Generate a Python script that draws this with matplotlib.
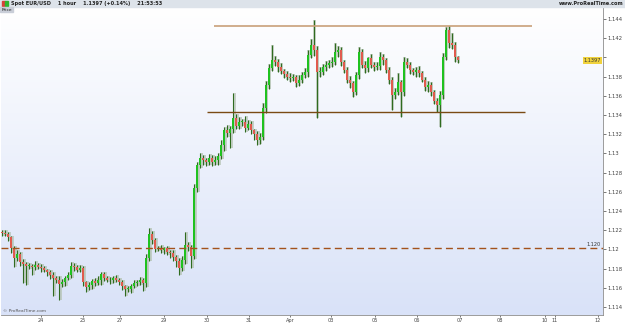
import numpy as np
import matplotlib
matplotlib.use("Agg")
import matplotlib.pyplot as plt
from matplotlib.colors import LinearSegmentedColormap
from matplotlib.patches import Rectangle

# EUR/USD spot, 1 hour candles (24 Mar -> 6 Apr), one close per candle
first_open = 1.1218
closes = [
    1.1217, 1.1216, 1.1213, 1.1201, 1.1191, 1.1195, 1.1187, 1.1185, 1.1183, 1.1183,
    1.1182, 1.1184, 1.1182, 1.1181, 1.1179, 1.1177, 1.1173, 1.1170, 1.1168, 1.1164,
    1.1166, 1.1170, 1.1173, 1.1183, 1.1182, 1.1179, 1.1181, 1.1166, 1.1161, 1.1163,
    1.1167, 1.1165, 1.1168, 1.1174, 1.1170, 1.1168, 1.1168, 1.1170, 1.1168, 1.1166,
    1.1162, 1.1159, 1.1159, 1.1162, 1.1165, 1.1166, 1.1168, 1.1165, 1.1191, 1.1216,
    1.1210, 1.1200, 1.1201, 1.1199, 1.1201, 1.1197, 1.1196, 1.1192, 1.1188, 1.1181,
    1.1189, 1.1205, 1.1203, 1.1193, 1.1264, 1.1288, 1.1295, 1.1293, 1.1291, 1.1295,
    1.1291, 1.1293, 1.1297, 1.1309, 1.1324, 1.1321, 1.1326, 1.1337, 1.1329, 1.1333,
    1.1333, 1.1327, 1.1331, 1.1324, 1.1320, 1.1314, 1.1317, 1.1347, 1.1371, 1.1389,
    1.1397, 1.1395, 1.1390, 1.1386, 1.1383, 1.1380, 1.1379, 1.1380, 1.1373, 1.1377,
    1.1382, 1.1385, 1.1403, 1.1413, 1.1408, 1.1385, 1.1385, 1.1390, 1.1392, 1.1394,
    1.1395, 1.1406, 1.1408, 1.1395, 1.1387, 1.1377, 1.1373, 1.1364, 1.1382, 1.1406,
    1.1392, 1.1389, 1.1399, 1.1392, 1.1390, 1.1391, 1.1401, 1.1397, 1.1387, 1.1377,
    1.1361, 1.1364, 1.1374, 1.1364, 1.1395, 1.1392, 1.1387, 1.1385, 1.1387, 1.1384,
    1.1377, 1.1369, 1.1371, 1.1364, 1.1355, 1.1350, 1.1361, 1.1400, 1.1429, 1.1415,
    1.1413, 1.1400, 1.1397,
]
# wick sizes above / below the body, in pips
upper_wick = [
    2, 3, 2, 1, 3, 4, 2, 3, 2, 3, 2, 4, 2, 3, 2, 1, 2, 3, 2, 4,
    3, 2, 4, 4, 3, 2, 3, 2, 1, 3, 2, 3, 4, 3, 2, 2, 3, 2, 3, 2,
    2, 1, 3, 2, 3, 2, 3, 2, 4, 6, 3, 2, 3, 4, 2, 3, 2, 3, 2, 3,
    4, 13, 3, 2, 4, 3, 5, 3, 2, 4, 3, 4, 3, 5, 4, 6, 3, 26, 4, 5,
    3, 6, 4, 3, 2, 3, 4, 6, 5, 4, 16, 5, 3, 4, 2, 3, 4, 3, 2, 5,
    3, 4, 5, 6, 26, 4, 5, 3, 4, 3, 5, 9, 4, 3, 2, 3, 4, 2, 3, 5,
    3, 4, 2, 5, 3, 4, 5, 3, 2, 3, 3, 4, 10, 3, 5, 4, 3, 2, 3, 4,
    2, 3, 4, 3, 2, 3, 4, 5, 3, 4, 10, 3, 2,
]
lower_wick = [
    3, 2, 4, 5, 9, 3, 4, 20, 20, 3, 9, 3, 2, 4, 3, 5, 4, 18, 3, 17,
    3, 4, 2, 3, 4, 3, 2, 4, 5, 3, 4, 3, 2, 5, 3, 2, 4, 3, 2, 3,
    4, 7, 3, 4, 2, 3, 3, 8, 4, 3, 4, 3, 2, 3, 4, 3, 5, 4, 6, 8,
    3, 4, 5, 12, 3, 4, 3, 5, 4, 3, 4, 3, 5, 3, 6, 4, 15, 5, 4, 3,
    4, 5, 3, 4, 6, 5, 4, 3, 5, 4, 3, 4, 5, 3, 4, 3, 5, 4, 4, 3,
    4, 3, 5, 4, 6, 48, 5, 3, 4, 3, 4, 3, 5, 4, 3, 4, 5, 5, 3, 4,
    3, 5, 4, 3, 4, 3, 4, 5, 3, 5, 16, 4, 3, 26, 4, 3, 4, 3, 5, 4,
    3, 4, 5, 4, 3, 7, 22, 4, 3, 5, 4, 5, 3,
]

# day labels (position in candles) and price grid
day_pos = [13, 27, 39.3, 54, 68.3, 82.3, 96, 109.7, 124.3, 138.3, 152.7, 166, 181, 184.3, 198.7]
day_labels = ["24", "25", "27", "29", "30", "31", "Apr", "03", "05", "06", "07", "08", "10", "11", "12"]
price_ticks = [1.114, 1.116, 1.118, 1.12, 1.122, 1.124, 1.126, 1.128, 1.13, 1.132,
               1.134, 1.136, 1.138, 1.14, 1.142, 1.144]

# drawn trend lines: (price, start candle, end candle)
resistance = (1.1433, 70.7, 176.7)
support = (1.1343, 68.3, 174.3)
dashed_level = 1.1202
last_price = 1.1397

closes = np.array(closes)
opens = np.concatenate([[first_open], closes[:-1]])
highs = np.maximum(opens, closes) + np.array(upper_wick) / 10000
lows = np.minimum(opens, closes) - np.array(lower_wick) / 10000
x = np.arange(len(closes))

fig = plt.figure(figsize=(6.25, 3.23), dpi=100, facecolor="white")
ax = fig.add_axes([0.0016, 0.0248, 0.963, 0.9532])

# soft white -> blue background
cmap = LinearSegmentedColormap.from_list("bg", ["#d9e2f8", "#ffffff"])
grad = np.linspace(0, 1, 256).reshape(-1, 1)
ax.imshow(grad, extent=[0, 1, 0, 1], transform=ax.transAxes, aspect="auto",
          cmap=cmap, origin="lower", zorder=0)

# candles
up = closes >= opens
ax.bar(x + 0.35, highs - lows, bottom=lows, width=1.0, color="#b4c2b2", alpha=0.7,
       linewidth=0, zorder=1)
ax.vlines(x, lows, highs, color="#2f6b1f", linewidth=0.8, zorder=2)
body = np.abs(closes - opens)
body = np.where(body < 0.00005, 0.00005, body)
ax.bar(x, body, bottom=np.minimum(opens, closes), width=0.65,
       color=np.where(up, "#1fc21f", "#e05a4e"), linewidth=0, zorder=3)

# levels
ax.hlines(resistance[0], resistance[1], resistance[2], color="#c9a079", linewidth=1.2, zorder=4)
ax.hlines(support[0], support[1], support[2], color="#7a4a14", linewidth=1.0, zorder=4)
ax.axhline(dashed_level, color="#a3521c", linewidth=1.0, dashes=(5, 3), zorder=4)
ax.text(199.5, dashed_level + 0.0001, "1.120", fontsize=3.6, color="#333333",
        ha="right", va="bottom", zorder=5)

ax.set_xlim(-0.333, 200.33)
ax.set_ylim(1.11317, 1.14525)

ax.yaxis.tick_right()
ax.set_yticks(price_ticks)
# the 1.14 label is replaced by the current price tag
ax.set_yticklabels(["" if p == 1.14 else ("%.3f" % p).rstrip("0") for p in price_ticks])
ax.set_xticks(day_pos)
ax.set_xticklabels(day_labels)
ax.tick_params(axis="y", labelsize=3.8, colors="#444444", length=2, width=0.5, pad=1.2)
ax.tick_params(axis="x", labelsize=3.6, colors="#444444", length=1.5, width=0.5, pad=0.6)
for s in ["top", "left"]:
    ax.spines[s].set_visible(False)
for s in ["right", "bottom"]:
    ax.spines[s].set_color("#8c8c8c")
    ax.spines[s].set_linewidth(0.6)

# current price tag
ax.text(0.997, last_price, "1.1397", transform=ax.get_yaxis_transform(), fontsize=3.6,
        color="#333333", ha="right", va="center", zorder=6,
        bbox=dict(boxstyle="square,pad=0.15", fc="#f0d23c", ec="none"))

ax.text(0.003, 0.008, "\u00a9 ProRealTime.com", transform=ax.transAxes, fontsize=3.2,
        color="#555555", ha="left", va="bottom")

# header strip
fig.patches.append(Rectangle((0, 0.978), 1, 0.022, transform=fig.transFigure,
                             color="#dde3ea", zorder=0))
fig.patches.append(Rectangle((0.003, 0.982), 0.005, 0.014, transform=fig.transFigure,
                             color="#d9403a", zorder=1))
fig.patches.append(Rectangle((0.008, 0.982), 0.005, 0.014, transform=fig.transFigure,
                             color="#2fb52f", zorder=1))
fig.text(0.018, 0.989, "Spot EUR/USD    1 hour    1.1397 (+0.14%)    21:53:53",
         fontsize=3.6, color="#222222", ha="left", va="center", weight="bold")
fig.text(0.998, 0.989, "www.ProRealTime.com", fontsize=3.6, color="#222222",
         ha="right", va="center", weight="bold")
fig.patches.append(Rectangle((0, 0.962), 0.02, 0.016, transform=fig.transFigure,
                             color="#c9ced8", zorder=1))
fig.text(0.002, 0.970, "Price", fontsize=3.2, color="#222222", ha="left", va="center")

fig.savefig("out.png", dpi=100, facecolor=fig.get_facecolor())
